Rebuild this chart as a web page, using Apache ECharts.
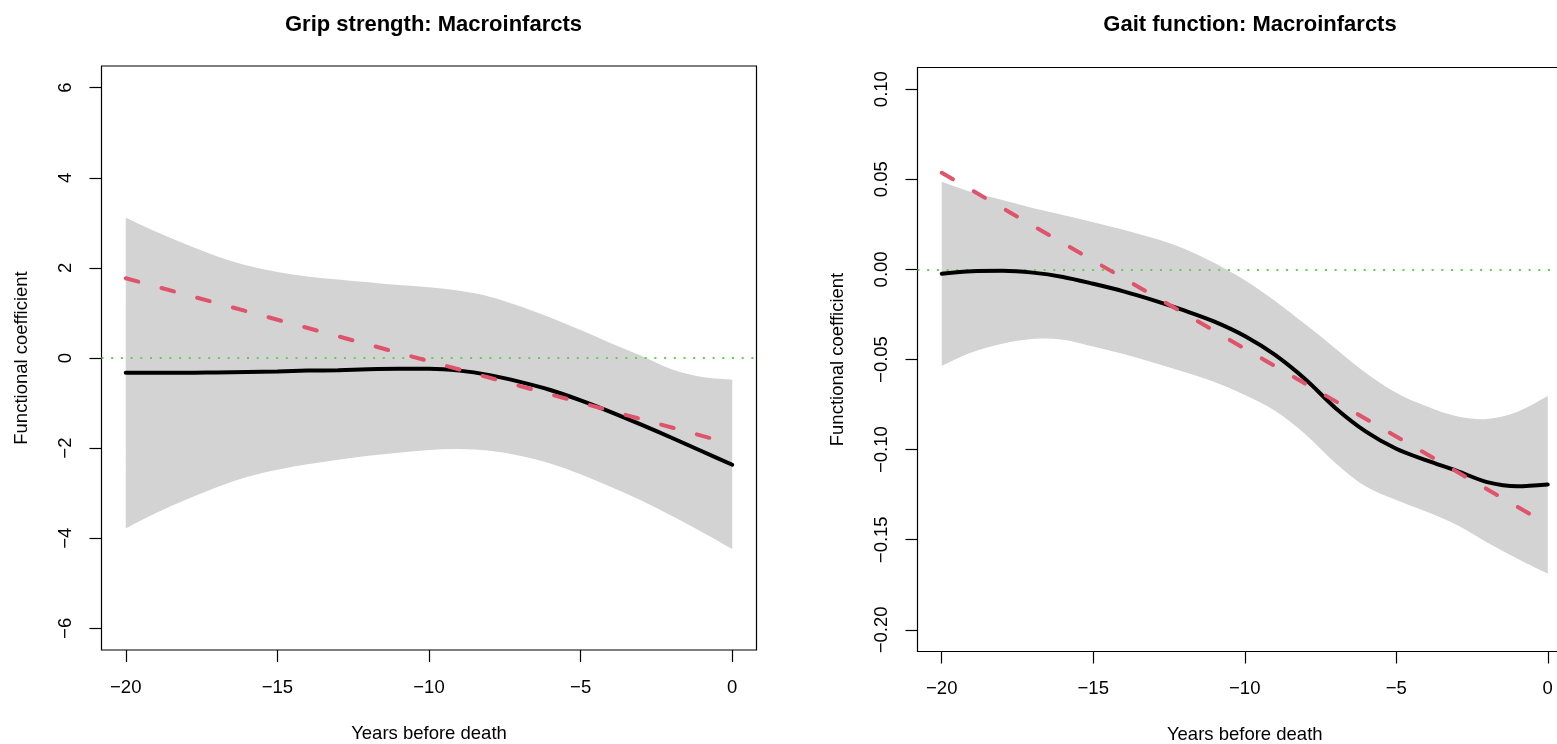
<!DOCTYPE html>
<html>
<head>
<meta charset="utf-8">
<title>Macroinfarcts</title>
<script src="https://cdn.jsdelivr.net/npm/echarts@6/dist/echarts.min.js"></script>
<style>
  html, body { margin: 0; padding: 0; background: #fff; }
  #main { width: 1557px; height: 744px; }
</style>
</head>
<body>
<div id="main"></div>
<script>
// years before death (shared x for both panels)
const years = [-20, -19, -18, -17, -16, -15, -14, -13, -12, -11, -10, -9, -8, -7, -6, -5, -4, -3, -2, -1, 0];

// grip strength panel
const gripUpper = [3.11, 2.80, 2.52, 2.26, 2.05, 1.91, 1.81, 1.74, 1.68, 1.62, 1.57, 1.49, 1.36, 1.15, 0.90, 0.62, 0.33, 0.05, -0.25, -0.42, -0.48];
const gripLower = [-3.78, -3.44, -3.14, -2.87, -2.64, -2.48, -2.36, -2.26, -2.17, -2.10, -2.04, -2.02, -2.06, -2.17, -2.34, -2.58, -2.86, -3.16, -3.50, -3.86, -4.24];
const gripFit = [-0.33, -0.33, -0.33, -0.32, -0.31, -0.30, -0.28, -0.27, -0.25, -0.24, -0.24, -0.28, -0.38, -0.53, -0.71, -0.94, -1.20, -1.48, -1.77, -2.07, -2.37];
const gripLinX = [-20, 0];
const gripLinY = [1.77, -1.91];

// gait function panel
const gaitUpper = [0.0486, 0.0428, 0.0385, 0.0340, 0.0302, 0.0262, 0.0220, 0.0172, 0.0115, 0.0035, -0.0060, -0.0175, -0.0305, -0.0440, -0.0575, -0.0685, -0.0760, -0.0815, -0.0830, -0.0790, -0.0703];
const gaitLower = [-0.0535, -0.0460, -0.0412, -0.0386, -0.0390, -0.0428, -0.0470, -0.0518, -0.0570, -0.0625, -0.0697, -0.0785, -0.0915, -0.1075, -0.1205, -0.1280, -0.1345, -0.1418, -0.1515, -0.1605, -0.1687];
const gaitFit = [-0.0024, -0.0010, -0.0008, -0.0018, -0.0042, -0.0080, -0.0122, -0.0172, -0.0228, -0.0290, -0.0370, -0.0475, -0.0610, -0.0770, -0.0900, -0.0995, -0.1060, -0.1118, -0.1180, -0.1203, -0.1193];
const gaitLinX = [-20, 0];
const gaitLinY = [0.0536, -0.1415];

// tick labels
const xTicks = [-20, -15, -10, -5, 0];
const gripTicks = [-6, -4, -2, 0, 2, 4, 6];
const gaitTicks = [-0.2, -0.15, -0.1, -0.05, 0, 0.05, 0.1];
const refLevel = 0;

const font = 'Liberation Sans, Arial, Helvetica, sans-serif';
const minus = s => String(s).replace('-', '\u2212');
const pairs = (xs, ys) => xs.map((x, i) => [x, ys[i]]);

var chart = echarts.init(document.getElementById('main'));

// catmull-rom through pixel points -> svg cubic segments
function curveThrough(pts, move) {
    let d = (move ? 'M' : 'L') + pts[0][0] + ',' + pts[0][1];
    for (let i = 0; i < pts.length - 1; i++) {
        const p0 = pts[i - 1] || pts[i], p1 = pts[i], p2 = pts[i + 1], p3 = pts[i + 2] || pts[i + 1];
        const c1 = [p1[0] + (p2[0] - p0[0]) / 6, p1[1] + (p2[1] - p0[1]) / 6];
        const c2 = [p2[0] - (p3[0] - p1[0]) / 6, p2[1] - (p3[1] - p1[1]) / 6];
        d += 'C' + c1[0] + ',' + c1[1] + ' ' + c2[0] + ',' + c2[1] + ' ' + p2[0] + ',' + p2[1];
    }
    return d;
}

function xAxis(gridIndex) {
    return {
        type: 'value', gridIndex: gridIndex, min: -20.8, max: 0.8,
        name: 'Years before death', nameLocation: 'middle', nameGap: 74,
        nameTextStyle: { fontFamily: font, fontSize: 18.5, color: '#000' },
        axisLine: { show: false, onZero: false },
        splitLine: { show: false },
        axisTick: { show: true, length: 12, customValues: xTicks, lineStyle: { color: '#000', width: 1.2 } },
        axisLabel: { customValues: xTicks, margin: 28, fontFamily: font, fontSize: 18.5, color: '#000', formatter: v => minus(v) }
    };
}

function yAxis(gridIndex, min, max, ticks, fmt) {
    return {
        type: 'value', gridIndex: gridIndex, min: min, max: max,
        name: 'Functional coefficient', nameLocation: 'middle', nameGap: 70,
        nameTextStyle: { fontFamily: font, fontSize: 18.5, color: '#000' },
        axisLine: { show: false, onZero: false },
        splitLine: { show: false },
        axisTick: { show: true, length: 12, customValues: ticks, lineStyle: { color: '#000', width: 1.2 } },
        axisLabel: { customValues: ticks, rotate: 90, margin: 26, fontFamily: font, fontSize: 18.5, color: '#000', formatter: fmt }
    };
}

function panel(idx, upper, lower, fit, linX, linY) {
    return [
        {   // confidence band, drawn once as a closed smooth path
            type: 'custom', xAxisIndex: idx, yAxisIndex: idx, z: 1, silent: true,
            data: years.map((x, i) => [x, lower[i], upper[i]]),
            encode: { x: 0, y: [1, 2] },
            renderItem: function (params, api) {
                if (params.dataIndex !== 0) return { type: 'group', children: [] };
                const top = years.map((x, i) => api.coord([x, upper[i]]));
                const bot = years.map((x, i) => api.coord([x, lower[i]])).reverse();
                return {
                    type: 'path',
                    shape: { pathData: curveThrough(top, true) + curveThrough(bot, false) + 'Z' },
                    style: { fill: '#D3D3D3', stroke: null }
                };
            },
            markLine: {
                z: 2, silent: true, symbol: 'none', label: { show: false },
                lineStyle: { color: '#61D04F', width: 2, type: [2, 7.7] },
                data: [{ yAxis: refLevel }]
            }
        },
        {
            type: 'line', xAxisIndex: idx, yAxisIndex: idx, z: 3,
            data: pairs(years, fit), smooth: 0.3, symbol: 'none',
            lineStyle: { color: '#000', width: 4, cap: 'round' }
        },
        {
            type: 'line', xAxisIndex: idx, yAxisIndex: idx, z: 4,
            data: pairs(linX, linY), symbol: 'none',
            lineStyle: { color: '#DF536B', width: 4, type: [13, 24], cap: 'round' }
        }
    ];
}

chart.setOption({
    animation: false,
    backgroundColor: '#fff',
    title: [
        { text: 'Grip strength: Macroinfarcts', left: 428.5, top: 9, textAlign: 'center',
          textStyle: { fontFamily: font, fontSize: 22, fontWeight: 'bold', color: '#000' } },
        { text: 'Gait function: Macroinfarcts', left: 1245, top: 9, textAlign: 'center',
          textStyle: { fontFamily: font, fontSize: 22, fontWeight: 'bold', color: '#000' } }
    ],
    grid: [
        { left: 101.5, top: 66, width: 655, height: 584, outerBoundsMode: 'none',
          show: true, borderColor: '#000', borderWidth: 1.2 },
        // the right frame runs past the canvas edge, as in the original figure
        { left: 917.5, top: 67.5, width: 654.5, height: 584, outerBoundsMode: 'none',
          show: true, borderColor: '#000', borderWidth: 1.2 }
    ],
    xAxis: [xAxis(0), xAxis(1)],
    yAxis: [
        yAxis(0, -6.48, 6.48, gripTicks, v => minus(v)),
        yAxis(1, -0.212, 0.112, gaitTicks, v => minus(v.toFixed(2)))
    ],
    series: [].concat(
        panel(0, gripUpper, gripLower, gripFit, gripLinX, gripLinY),
        panel(1, gaitUpper, gaitLower, gaitFit, gaitLinX, gaitLinY)
    )
});
</script>
</body>
</html>
